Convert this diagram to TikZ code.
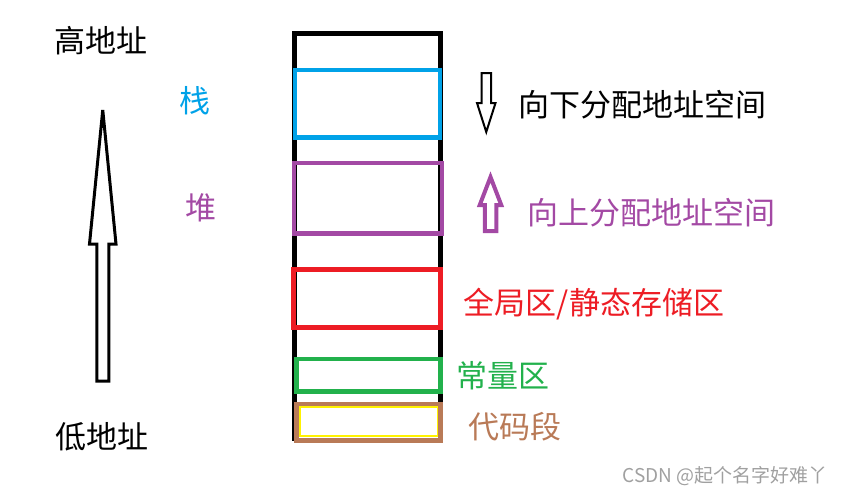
\documentclass[tikz,border=0pt]{standalone}
\usepackage{fontspec}
\setmainfont{Noto Sans CJK SC}
\newfontfamily\cjk{Noto Sans CJK SC}
\definecolor{stackblue}{HTML}{00A2E8}
\definecolor{heappurple}{HTML}{A349A4}
\definecolor{globalred}{HTML}{ED1C24}
\definecolor{constgreen}{HTML}{22B14C}
\definecolor{codebrown}{HTML}{B97A57}
\definecolor{codeyellow}{HTML}{FFF200}
\definecolor{markgray}{HTML}{A0A0A0}
\newcommand{\blkarrow}[7] % style, x, tip y, head y, head half width, shaft half width, tail y
{
	\draw[#1] (#2,#3) -- (#2+#5,#4) -- (#2+#6,#4) -- (#2+#6,#7)
		-- (#2-#6,#7) -- (#2-#6,#4) -- (#2-#5,#4) -- cycle;
}
\newcommand{\segbox}[5] % colour, x1, y1, x2, y2
{
	\draw[#1, line width=4.5pt] (#2,#3) rectangle (#4,#5);
}
\begin{document}
\begin{tikzpicture}[x=1pt, y=-1pt, line join=miter,
	txt/.style={font=\cjk\fontsize{31}{31}\selectfont, inner sep=0pt}]
	\useasboundingbox (0,0) rectangle (842,495);
	% memory column
	\draw[line width=4.3pt] (294.5,440.5) -- (294.5,33.5) -- (440.5,33.5) -- (440.5,440.5);
	% segments, top to bottom
	\segbox{stackblue}{295}{70}{440}{137.5};
	\segbox{heappurple}{294}{163}{442}{233.5};
	\segbox{globalred}{293.5}{269.5}{440.5}{327.5};
	\segbox{constgreen}{296.5}{359}{440.5}{391.5};
	\draw[codeyellow, line width=2pt] (300,407) rectangle (437.5,435.5);
	\segbox{codebrown}{296.5}{404}{440.5}{440.5};
	
	% address direction
	\blkarrow{line width=3pt}{102.75}{110}{244}{13.25}{6}{381};
	\node[txt] (high) at (101,40.5) {高地址};
	\node[txt] (low) at (101.5,437) {低地址};
	
	% segment names
	\node[txt, stackblue] (stack) at (194.5,101) {栈};
	\node[txt, heappurple] (heap) at (200.5,207.5) {堆};
	\node[txt, globalred] (global) at (594,304.5) {全局区/静态存储区};
	\node[txt, constgreen] (const) at (502.5,375.5) {常量区};
	\node[txt, codebrown] (code) at (514.5,427) {代码段};
	
	% growth direction
	\blkarrow{line width=2pt}{486.25}{132}{103}{9.25}{4.75}{73};
	\node[txt] (down) at (642.5,104.5) {向下分配地址空间};
	\blkarrow{heappurple, line width=4pt}{490.5}{177}{205}{10.75}{5.75}{231};
	\node[txt, heappurple] (up) at (651,212.5) {向上分配地址空间};
	
	\node[font=\cjk\fontsize{19}{19}\selectfont, markgray, inner sep=0pt] (mark) at (725,476) {CSDN @起个名字好难丫};
\end{tikzpicture}
\end{document}
